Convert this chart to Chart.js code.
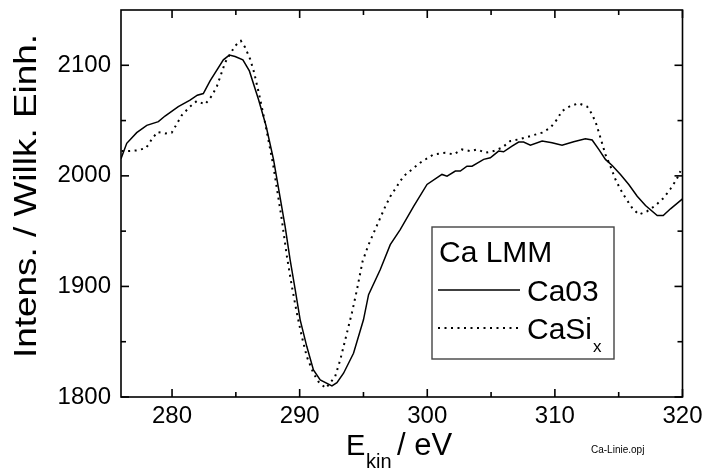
<!DOCTYPE html>
<html>
<head>
<meta charset="utf-8">
<script src="https://cdn.jsdelivr.net/npm/chart.js@4.4.1/dist/chart.umd.min.js"></script>
<style>
  html, body { margin: 0; padding: 0; background: #fff; }
  #wrap { width: 704px; height: 471px; }
</style>
</head>
<body>
<div id="wrap"><canvas id="c" width="704" height="471"></canvas></div>
<script>
// Ca LMM Auger spectra: kinetic energy (eV) vs. intensity (arb. units)
const energyCa03 = [276.00,276.45,277.23,278.02,278.93,279.45,280.49,281.41,281.98,282.45,282.98,284.02,284.49,284.94,285.55,286.06,286.77,287.37,287.95,288.47,288.86,289.25,289.65,290.04,290.56,291.08,291.61,292.53,292.92,293.44,294.22,295.00,295.40,296.31,297.10,297.88,298.93,299.98,301.15,301.55,302.20,302.59,303.11,303.51,304.42,304.94,305.59,305.98,306.64,307.16,307.55,308.08,309.00,309.78,310.56,311.47,312.39,312.92,313.44,313.96,314.49,315.14,315.79,316.45,317.10,318.02,318.49,319.06,320.00];
const intensityCa03 = [2015.5,2029.4,2039.1,2045.7,2049.0,2054.1,2062.6,2068.4,2072.9,2074.4,2085.9,2104.9,2109.2,2108.0,2104.9,2094.9,2069.3,2045.1,2014.9,1980.4,1954.4,1924.2,1897.0,1869.8,1845.6,1824.5,1815.4,1810.0,1813.0,1821.5,1839.6,1869.8,1892.5,1915.1,1937.8,1951.4,1972.5,1992.2,2001.3,1999.7,2004.3,2004.3,2008.8,2008.8,2014.9,2016.4,2022.4,2021.8,2026.9,2030.6,2030.6,2027.8,2031.5,2030.0,2027.8,2030.9,2033.6,2032.4,2023.9,2014.9,2009.4,2001.3,1992.2,1981.6,1973.2,1964.1,1964.1,1970.2,1979.2];

const energyCaSi = [276.05,276.57,277.23,277.96,278.41,278.85,279.45,279.98,280.31,280.76,281.41,281.94,282.59,283.11,283.51,284.16,284.55,284.94,285.39,285.73,286.12,286.43,286.85,287.29,287.92,288.60,289.00,289.39,289.78,290.17,290.56,291.08,291.47,292.05,292.78,293.18,293.57,294.09,294.49,294.93,295.40,296.05,296.71,297.10,298.14,299.45,300.49,301.41,302.06,302.72,303.37,303.90,304.55,305.20,305.86,306.51,307.16,308.08,309.00,309.65,310.17,310.56,311.22,311.87,312.53,312.92,313.25,313.57,313.96,314.35,314.75,315.14,315.53,316.05,316.57,317.23,317.88,318.53,319.06,319.53,319.84];
const intensityCaSi = [2022.4,2022.4,2023.0,2025.1,2033.0,2039.6,2038.4,2039.1,2045.7,2054.8,2062.6,2067.7,2064.7,2072.3,2080.8,2102.5,2110.1,2117.6,2122.1,2116.1,2105.5,2093.5,2072.3,2048.1,2010.3,1960.5,1927.2,1900.0,1875.9,1854.7,1836.5,1821.5,1813.9,1807.9,1818.4,1833.5,1851.7,1875.9,1897.0,1922.7,1937.8,1955.0,1972.3,1981.3,1999.7,2011.9,2019.4,2020.9,2019.4,2023.9,2022.4,2023.9,2020.9,2022.4,2025.5,2031.5,2033.0,2036.0,2039.1,2043.6,2051.1,2058.7,2063.2,2065.6,2062.6,2055.7,2046.6,2034.5,2019.4,2008.8,1996.7,1987.7,1980.1,1971.1,1965.0,1968.0,1973.2,1980.1,1988.3,1996.7,2004.3];

// axis ticks (every tick gets a mark, labelled ones get text)
const xTicks = [280,285,290,295,300,305,310,315,320];
const xLabelled = [280,290,300,310,320];
const yTicks = [1800,1850,1900,1950,2000,2050,2100];
const yLabelled = [1800,1900,2000,2100];

const legendTitle = 'Ca LMM';
const seriesNames = ['Ca03', 'CaSi'];
const seriesSub = ['', 'x'];

const FONT = '"Liberation Sans", Arial, Helvetica, sans-serif';

const toPoints = (xs, ys) => xs.map((v, i) => ({ x: v, y: ys[i] }));

// frame with inward ticks on all four sides, plus titles and legend
const decorations = {
  id: 'decorations',
  beforeDraw(chart) {
    const ctx = chart.ctx;
    ctx.save();
    ctx.fillStyle = '#fff';
    ctx.fillRect(0, 0, chart.width, chart.height);
    ctx.restore();
  },
  afterDatasetsDraw(chart) {
    const { ctx, chartArea: a, scales: { x, y } } = chart;
    ctx.save();
    ctx.strokeStyle = '#000';
    ctx.lineWidth = 1.6;
    ctx.lineCap = 'butt';
    ctx.strokeRect(a.left, a.top, a.right - a.left, a.bottom - a.top);
    const seg = (x1, y1, x2, y2) => { ctx.beginPath(); ctx.moveTo(x1, y1); ctx.lineTo(x2, y2); ctx.stroke(); };
    xTicks.forEach(v => {
      const px = x.getPixelForValue(v);
      const len = xLabelled.includes(v) ? 8 : 5;
      seg(px, a.bottom, px, a.bottom - len);
      seg(px, a.top, px, a.top + len);
    });
    yTicks.forEach(v => {
      const py = y.getPixelForValue(v);
      const len = yLabelled.includes(v) ? 8 : 5;
      seg(a.left, py, a.left + len, py);
      seg(a.right, py, a.right - len, py);
    });

    // y title, rotated
    ctx.fillStyle = '#000';
    ctx.save();
    ctx.translate(36, 196);
    ctx.rotate(-Math.PI / 2);
    ctx.font = '31px ' + FONT;
    ctx.textAlign = 'center';
    ctx.textBaseline = 'alphabetic';
    const yt = 'Intens. / Willk. Einh.';
    const w = ctx.measureText(yt).width;
    ctx.scale(324 / w, 1);
    ctx.fillText(yt, 0, 0);
    ctx.restore();

    // x title with subscript
    ctx.textAlign = 'left';
    ctx.textBaseline = 'alphabetic';
    ctx.font = '29px ' + FONT;
    ctx.fillText('E', 346, 455);
    ctx.font = '20px ' + FONT;
    ctx.fillText('kin', 366, 468);
    ctx.font = '31px ' + FONT;
    ctx.fillText('/ eV', 397, 455);

    ctx.font = '10px ' + FONT;
    ctx.fillText('Ca-Linie.opj', 591, 453);

    // legend box
    ctx.strokeStyle = '#444';
    ctx.lineWidth = 1.4;
    ctx.strokeRect(432, 227, 182, 132);
    ctx.font = '30px ' + FONT;
    ctx.fillText(legendTitle, 439, 262);

    ctx.strokeStyle = '#000';
    ctx.lineWidth = 1.6;
    seg(438, 290, 520, 290);
    ctx.fillText(seriesNames[0], 527, 301);

    ctx.lineWidth = 2;
    ctx.setLineDash([2, 4.5]);
    seg(438, 328, 518, 328);
    ctx.setLineDash([]);
    ctx.fillText(seriesNames[1], 527, 339);
    const sw = ctx.measureText(seriesNames[1]).width;
    ctx.font = '17px ' + FONT;
    ctx.fillText(seriesSub[1], 527 + sw + 1, 352);
    ctx.restore();
  }
};

new Chart(document.getElementById('c'), {
  type: 'line',
  data: {
    datasets: [
      {
        label: seriesNames[0],
        data: toPoints(energyCa03, intensityCa03),
        borderColor: '#000',
        borderWidth: 1.5,
        pointRadius: 0,
        tension: 0,
        fill: false
      },
      {
        label: seriesNames[1] + seriesSub[1],
        data: toPoints(energyCaSi, intensityCaSi),
        borderColor: '#000',
        borderWidth: 2,
        borderDash: [2, 4.5],
        pointRadius: 0,
        tension: 0,
        fill: false
      }
    ]
  },
  options: {
    responsive: false,
    animation: false,
    devicePixelRatio: 1,
    layout: { padding: { top: 10, right: 21.5, left: 0, bottom: 0 } },
    plugins: { legend: { display: false }, tooltip: { enabled: false } },
    scales: {
      x: {
        type: 'linear',
        min: 276,
        max: 320,
        afterBuildTicks: s => { s.ticks = xTicks.map(v => ({ value: v })); },
        afterFit: s => { s.height = 74; s.paddingLeft = 0; s.paddingRight = 0; },
        grid: { display: false, drawTicks: false },
        border: { display: false },
        ticks: {
          padding: 5,
          color: '#000',
          font: { family: FONT, size: 24 },
          maxRotation: 0,
          autoSkip: false,
          callback: v => xLabelled.includes(v) ? String(v) : ''
        }
      },
      y: {
        type: 'linear',
        min: 1800,
        max: 2150,
        afterBuildTicks: s => { s.ticks = yTicks.map(v => ({ value: v })); },
        afterFit: s => { s.width = 121; s.paddingTop = 0; s.paddingBottom = 0; },
        grid: { display: false, drawTicks: false },
        border: { display: false },
        ticks: {
          padding: 10,
          color: '#000',
          font: { family: FONT, size: 24 },
          autoSkip: false,
          callback: v => yLabelled.includes(v) ? String(v) : ''
        }
      }
    }
  },
  plugins: [decorations]
});
</script>
</body>
</html>
